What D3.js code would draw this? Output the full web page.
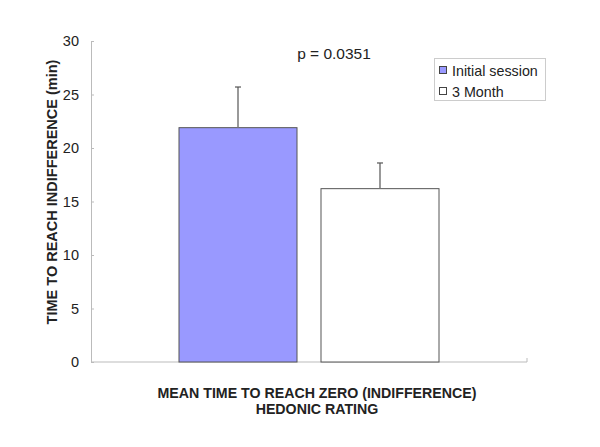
<!DOCTYPE html>
<html><head><meta charset="utf-8">
<script src="https://cdn.jsdelivr.net/npm/d3@7"></script>
<style>body{margin:0;background:#fff}text{font-family:"Liberation Sans",Arial,sans-serif}</style>
</head><body><svg id="c" width="600" height="447"></svg>
<script>
const series = ["Initial session", "3 Month"];
const values = [21.9, 16.2];
const errors = [3.8, 2.4];
const colors = ["#9999FF", "#FFFFFF"];
const yTicks = [0, 5, 10, 15, 20, 25, 30];
const pLabel = "p = 0.0351";
const yTitle = "TIME TO REACH INDIFFERENCE (min)";
const xTitle = ["MEAN TIME TO REACH ZERO (INDIFFERENCE)", "HEDONIC RATING"];

const svg = d3.select("#c");
const x0 = 91, x1 = 527, yTop = 41, yBot = 362;
const y = d3.scaleLinear().domain([0, 30]).range([yBot, yTop]);
const xb = d3.scaleBand().domain(series).range([179, 439]).paddingInner(0.169).paddingOuter(0);

// y axis
const ya = svg.append("g").attr("transform", `translate(${x0},0)`)
  .call(d3.axisLeft(y).tickValues(yTicks).tickSizeInner(-3).tickSizeOuter(0).tickPadding(12));
ya.select(".domain").attr("stroke", "#bbb");
ya.selectAll(".tick line").attr("stroke", "#bbb");
ya.selectAll(".tick text").attr("font-size", 14.5).attr("fill", "#222");

// x axis
svg.append("line").attr("x1", x0).attr("x2", x1).attr("y1", yBot).attr("y2", yBot).attr("stroke", "#bbb");
svg.append("line").attr("x1", x1).attr("x2", x1).attr("y1", yBot).attr("y2", yBot - 4).attr("stroke", "#bbb");

// bars
svg.selectAll(".bar").data(series).enter().append("rect")
  .attr("x", d => xb(d)).attr("width", xb.bandwidth())
  .attr("y", (d, i) => y(values[i])).attr("height", (d, i) => yBot - y(values[i]))
  .attr("fill", (d, i) => colors[i]).attr("stroke", "#555").attr("stroke-width", 1);

// error bars
series.forEach((s, i) => {
  const cx = xb(s) + xb.bandwidth() / 2;
  svg.append("line").attr("x1", cx).attr("x2", cx).attr("y1", y(values[i])).attr("y2", y(values[i] + errors[i]))
    .attr("stroke", "#777").attr("stroke-width", 1.5);
  svg.append("line").attr("x1", cx - 3).attr("x2", cx + 3).attr("y1", y(values[i] + errors[i])).attr("y2", y(values[i] + errors[i]))
    .attr("stroke", "#555").attr("stroke-width", 1.2);
});

// p label
svg.append("text").attr("x", 334).attr("y", 59).attr("text-anchor", "middle").attr("font-size", 15.5).attr("fill", "#222").text(pLabel);

// legend
const lg = svg.append("g");
lg.append("rect").attr("x", 434.5).attr("y", 58.5).attr("width", 111).attr("height", 42).attr("fill", "#fff").attr("stroke", "#ccc");
series.forEach((s, i) => {
  const yy = 66.5 + i * 21;
  lg.append("rect").attr("x", 439.5).attr("y", yy).attr("width", 7).attr("height", 7)
    .attr("fill", colors[i]).attr("stroke", "#444");
  lg.append("text").attr("x", 452).attr("y", 76 + i * 20.5).attr("font-size", 14.3).attr("fill", "#222").text(s);
});

// titles
svg.append("text").attr("transform", "translate(57,192) rotate(-90)").attr("text-anchor", "middle")
  .attr("font-size", 14.5).attr("font-weight", "bold").attr("fill", "#222").text(yTitle);
xTitle.forEach((t, i) => {
  svg.append("text").attr("x", 317).attr("y", 398 + i * 16).attr("text-anchor", "middle")
    .attr("font-size", 14.2).attr("font-weight", "bold").attr("fill", "#222").text(t);
});
</script></body></html>
